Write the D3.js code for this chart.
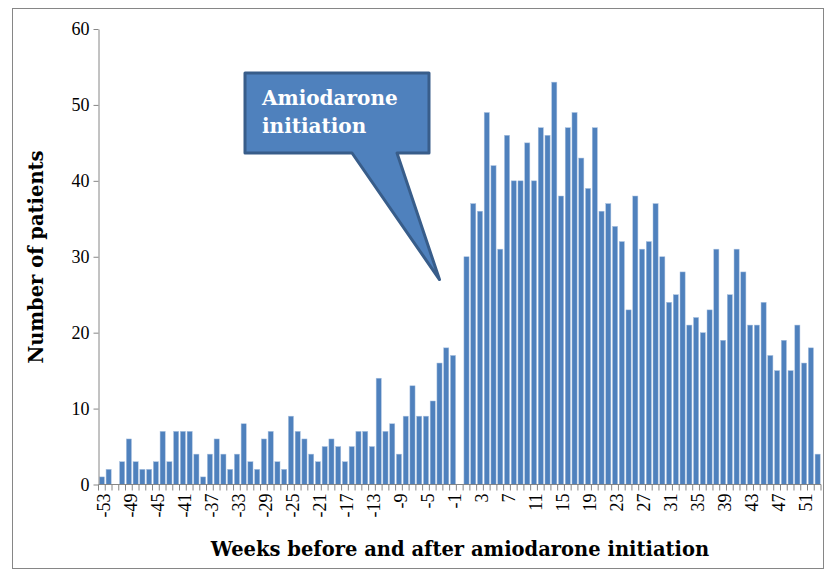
<!DOCTYPE html>
<html>
<head>
<meta charset="utf-8">
<script src="https://cdn.jsdelivr.net/npm/d3@7"></script>
<style>
  body { margin: 0; background: #fff; }
  svg text { font-family: "Liberation Serif", "DejaVu Serif", serif; }
  svg text.bold { font-family: "DejaVu Serif", serif; font-weight: bold; }
</style>
</head>
<body>
<svg width="825" height="570"></svg>
<script>
// Weeks relative to amiodarone start (week 0 has no patients)
var weeks = d3.range(-53, 54);

// Number of patients per week
var patients = [
  1, 2, 0, 3, 6, 3, 2, 2, 3, 7, 3, 7, 7, 7, 4, 1, 4, 6, 4, 2,      // -53 .. -34
  4, 8, 3, 2, 6, 7, 3, 2, 9, 7, 6, 4, 3, 5, 6, 5, 3, 5, 7, 7,      // -33 .. -14
  5, 14, 7, 8, 4, 9, 13, 9, 9, 11, 16, 18, 17,                     // -13 .. -1
  0,                                                               // 0
  30, 37, 36, 49, 42, 31, 46, 40, 40, 45, 40, 47, 46, 53, 38, 47,  // 1 .. 16
  49, 43, 39, 47, 36, 37, 34, 32, 23, 38, 31, 32, 37, 30, 24, 25,  // 17 .. 32
  28, 21, 22, 20, 23, 31, 19, 25, 31, 28, 21, 21, 24, 17, 15, 19,  // 33 .. 48
  15, 21, 16, 18, 4                                                // 49 .. 53
];

var yTicks = [0, 10, 20, 30, 40, 50, 60];
var xTickLabels = weeks.filter(function(w, i) { return i % 4 === 0; });

(function() {
    var data = weeks.map(function(w, i) { return { week: w, value: patients[i] }; });

    var svg = d3.select("svg");
    var axisColor = "#868686";
    var barColor = "#4F81BD";

    // chart area border
    svg.append("rect")
       .attr("x", 12.5).attr("y", 8.5)
       .attr("width", 811).attr("height", 560)
       .attr("fill", "none")
       .attr("stroke", axisColor)
       .attr("stroke-width", 1);

    var left = 98.5, right = 821, plotTop = 29, bottom = 484.5;

    var x = d3.scaleBand()
              .domain(weeks)
              .range([left, right])
              .paddingInner(0.24)
              .paddingOuter(0.12);

    var y = d3.scaleLinear()
              .domain([0, 60])
              .range([bottom, plotTop]);

    // bars
    svg.append("g")
       .selectAll("rect")
       .data(data)
       .enter()
       .append("rect")
       .attr("x", function(d) { return x(d.week); })
       .attr("width", x.bandwidth())
       .attr("y", function(d) { return y(d.value); })
       .attr("height", function(d) { return bottom - y(d.value); })
       .attr("fill", barColor)
       .attr("stroke", "#a9c1e0")
       .attr("stroke-width", 0.5);

    // y axis
    var yAxis = svg.append("g")
       .attr("transform", "translate(" + left + ",0)")
       .call(d3.axisLeft(y).tickValues(yTicks).tickSize(5).tickPadding(4).tickSizeOuter(0));
    yAxis.select(".domain").attr("stroke", axisColor);
    yAxis.selectAll(".tick line").attr("stroke", axisColor);
    yAxis.selectAll("text")
         .attr("fill", "#000")
         .style("font-size", "18px")
         .style("font-family", "Liberation Serif");

    // x axis: ticks between every category
    var gap = x.step() - x.bandwidth();
    var boundaries = weeks.map(function(w) { return x(w) - gap / 2; });
    boundaries.push(right);

    var xg = svg.append("g");
    xg.append("line")
      .attr("x1", left).attr("x2", right)
      .attr("y1", bottom).attr("y2", bottom)
      .attr("stroke", axisColor);
    xg.selectAll("line.tk")
      .data(boundaries)
      .enter()
      .append("line")
      .attr("class", "tk")
      .attr("x1", function(d) { return d; })
      .attr("x2", function(d) { return d; })
      .attr("y1", bottom)
      .attr("y2", bottom + 6)
      .attr("stroke", axisColor);

    xg.selectAll("text")
      .data(xTickLabels)
      .enter()
      .append("text")
      .attr("transform", function(d) {
          return "translate(" + (x(d) + x.bandwidth() / 2 + 1.5) + "," + (bottom + 9) + ") rotate(-90)";
      })
      .attr("text-anchor", "end")
      .attr("dy", "0.35em")
      .style("font-size", "18px")
      .text(function(d) { return d; });

    // axis titles
    svg.append("text")
       .attr("class", "bold")
       .attr("x", 460).attr("y", 556)
       .attr("text-anchor", "middle")
       .style("font-size", "19.5px")
       .text("Weeks before and after amiodarone initiation");

    svg.append("text")
       .attr("class", "bold")
       .attr("transform", "translate(43,257) rotate(-90)")
       .attr("text-anchor", "middle")
       .style("font-size", "19.5px")
       .text("Number of patients");

    // callout pointing at the start of treatment
    var tipX = x(-3) + x.bandwidth() / 2;
    var tipY = y(27);
    var bx0 = 245, bx1 = 429, by0 = 73, by1 = 153;
    var callout = d3.path();
    callout.moveTo(bx0, by0);
    callout.lineTo(bx1, by0);
    callout.lineTo(bx1, by1);
    callout.lineTo(397, by1);
    callout.lineTo(tipX, tipY);
    callout.lineTo(352, by1);
    callout.lineTo(bx0, by1);
    callout.closePath();

    svg.append("path")
       .attr("d", callout.toString())
       .attr("fill", barColor)
       .attr("stroke", "#385D8A")
       .attr("stroke-width", 3)
       .attr("stroke-linejoin", "round");

    svg.append("text")
       .attr("class", "bold")
       .attr("x", 262).attr("y", 105)
       .attr("fill", "#fff")
       .style("font-size", "20px")
       .text("Amiodarone");
    svg.append("text")
       .attr("class", "bold")
       .attr("x", 262).attr("y", 133)
       .attr("fill", "#fff")
       .style("font-size", "20px")
       .text("initiation");
})();
</script>
</body>
</html>
